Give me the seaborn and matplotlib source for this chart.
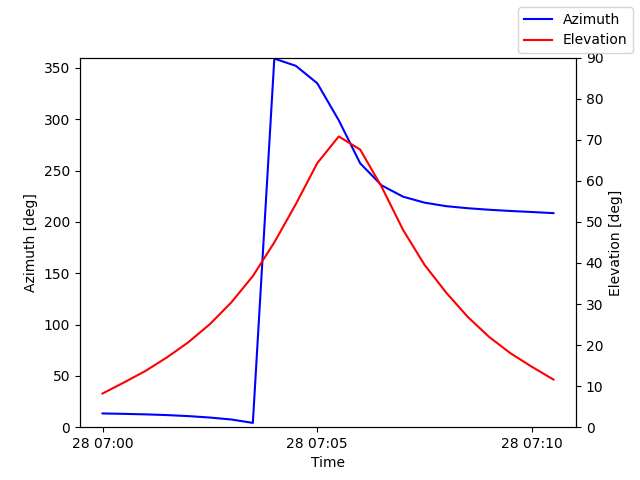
import pandas as pd
import matplotlib
matplotlib.use("Agg")
import matplotlib.pyplot as plt
import seaborn as sns

# samples every 30 s from 07:00:00 to 07:10:30
times = pd.date_range("2023-01-28 07:00:00", periods=22, freq="30s")

azimuth = [13.4, 13.0, 12.5, 11.8, 10.8, 9.4, 7.5, 4.2,
           359.0, 352.0, 335.0, 299.0, 257.0, 235.5, 224.5, 218.7,
           215.3, 213.3, 211.8, 210.6, 209.6, 208.5]
elevation = [8.2, 10.9, 13.7, 17.0, 20.7, 25.1, 30.4, 36.8,
             45.0, 54.3, 64.3, 70.8, 67.6, 58.5, 48.0, 39.5,
             32.8, 26.9, 22.0, 18.0, 14.7, 11.6]

df = pd.DataFrame({"Time": times, "Azimuth": azimuth, "Elevation": elevation})

fig, ax = plt.subplots(figsize=(6.4, 4.8), dpi=100)
ax2 = ax.twinx()

sns.lineplot(data=df, x="Time", y="Azimuth", color="blue", label="Azimuth", legend=False, ax=ax)
sns.lineplot(data=df, x="Time", y="Elevation", color="red", label="Elevation", legend=False, ax=ax2)

ax.set_ylim(0, 360)
ax2.set_ylim(0, 90)
ax.set_xlabel("Time")
ax.set_ylabel("Azimuth [deg]")
ax2.set_ylabel("Elevation [deg]")

fig.legend(loc="upper right")
plt.savefig("out.png")
